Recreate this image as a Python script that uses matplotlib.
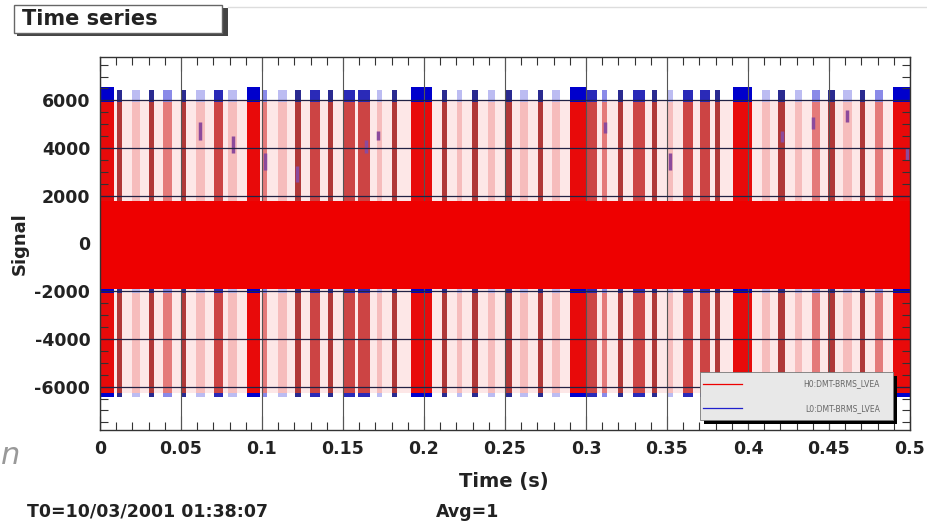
import matplotlib
matplotlib.use("Agg")
import matplotlib.pyplot as plt
from matplotlib.patches import Rectangle
from matplotlib.ticker import MultipleLocator, FixedLocator, FixedFormatter

plt.rcParams['font.family'] = ['DejaVu Sans']

# burst positions (s), widths (s) and shade level
# level: 0 light, 1 medium, 2 dark narrow, 3 strong, 4 medium-dark
pulse_t = [0.0046, 0.0120, 0.0222, 0.0318, 0.0417, 0.0519, 0.0620, 0.0731,
           0.0818, 0.0948, 0.1015, 0.1127, 0.1222, 0.1327, 0.1423, 0.1537,
           0.1630, 0.1725, 0.1818, 0.1985, 0.2127, 0.2219, 0.2315, 0.2417,
           0.2522, 0.2617, 0.2719, 0.2815, 0.2954, 0.3037, 0.3114, 0.3213,
           0.3327, 0.3423, 0.3519, 0.3630, 0.3735, 0.3812, 0.3966, 0.4111,
           0.4207, 0.4312, 0.4420, 0.4515, 0.4614, 0.4707, 0.4809, 0.4948]
pulse_w = [0.0085, 0.0030, 0.0050, 0.0030, 0.0055, 0.0025, 0.0055, 0.0055,
           0.0055, 0.0080, 0.0030, 0.0055, 0.0035, 0.0060, 0.0030, 0.0070,
           0.0070, 0.0030, 0.0030, 0.0130, 0.0030, 0.0030, 0.0035, 0.0040,
           0.0040, 0.0050, 0.0030, 0.0050, 0.0105, 0.0060, 0.0030, 0.0030,
           0.0070, 0.0030, 0.0035, 0.0060, 0.0060, 0.0030, 0.0115, 0.0050,
           0.0040, 0.0040, 0.0050, 0.0040, 0.0055, 0.0030, 0.0050, 0.0105]
pulse_lvl = [3, 2, 0, 2, 1, 2, 0, 4,
             0, 3, 1, 0, 2, 4, 2, 4,
             4, 0, 2, 3, 2, 0, 2, 0,
             2, 0, 2, 0, 3, 4, 1, 2,
             4, 2, 0, 4, 4, 2, 3, 0,
             2, 0, 1, 2, 0, 2, 1, 3]

# signal levels
pulse_lo = -6250
pulse_hi = 6000
cap_hi_strong = 6550
cap_hi = 6450
cap_lo = -6450
band_t = [0.0, 0.5]
band_lo = [-1900, -1900]
band_hi = [1800, 1800]
band_edge_lo = -2060

# second channel peaks visible inside bursts
mark_t = [0.0617, 0.0821, 0.1019, 0.1216, 0.1642, 0.1716,
          0.3117, 0.3519, 0.4210, 0.4401, 0.4611, 0.4981]
mark_lo = [4350, 3800, 3100, 2560, 3800, 4350, 4650, 3100, 4240, 4800, 5100, 3500]
mark_hi = [5100, 4500, 3800, 3230, 4350, 4700, 5100, 3800, 4700, 5300, 5600, 4000]

xticks = [0, 0.05, 0.1, 0.15, 0.2, 0.25, 0.3, 0.35, 0.4, 0.45, 0.5]
xlabels = ['0', '0.05', '0.1', '0.15', '0.2', '0.25', '0.3', '0.35', '0.4', '0.45', '0.5']
yticks = [-6000, -4000, -2000, 0, 2000, 4000, 6000]
ylabels = ['-6000', '-4000', '-2000', '0', '2000', '4000', '6000']

red_c = {0: '#f6bcbc', 1: '#e47a7a', 2: '#b03838', 3: '#e80a0a', 4: '#cc4444'}
blue_c = {0: '#bcbcf2', 1: '#8a8ae8', 2: '#2a2a90', 3: '#0000cc', 4: '#2a2ab8'}

fig = plt.figure(figsize=(9.28, 5.24), dpi=100)
ax = fig.add_axes([100 / 928, 1 - 430 / 524, 810 / 928, 373 / 524])
ax.set_xlim(0, 0.5)
ax.set_ylim(-7820, 7820)

# pale background of the dense signal
ax.fill_between(band_t, [pulse_lo] * 2, [pulse_hi] * 2, color='#fde7e7', lw=0, zorder=0.5)

reds = [red_c[l] for l in pulse_lvl]
blues = [blue_c[l] for l in pulse_lvl]
caps = [cap_hi_strong if l == 3 else cap_hi for l in pulse_lvl]

ax.bar(pulse_t, pulse_hi - pulse_lo, width=pulse_w, bottom=pulse_lo, color=reds, lw=0, zorder=1)
ax.bar(pulse_t, [c - pulse_hi + 50 for c in caps], width=pulse_w, bottom=pulse_hi - 50,
       color=blues, lw=0, zorder=1.1)
ax.bar(pulse_t, pulse_lo - cap_lo, width=pulse_w, bottom=cap_lo, color=blues, lw=0, zorder=1.1)
ax.bar(pulse_t, band_lo[0] - band_edge_lo, width=pulse_w, bottom=band_edge_lo,
       color=blues, lw=0, zorder=1.1)
ax.vlines(mark_t, mark_lo, mark_hi, colors='#8c4a9c', lw=2.5, zorder=1.2)

# grid
for x in xticks:
    ax.axvline(x, color='#555555', lw=0.8, zorder=2)
for y in yticks:
    ax.axhline(y, color='#222244', lw=0.9, zorder=2)

# central band
ax.fill_between(band_t, band_lo, band_hi, color='#ee0000', lw=0, zorder=3)

ax.xaxis.set_major_locator(FixedLocator(xticks))
ax.xaxis.set_major_formatter(FixedFormatter(xlabels))
ax.yaxis.set_major_locator(FixedLocator(yticks))
ax.yaxis.set_major_formatter(FixedFormatter(ylabels))
ax.xaxis.set_minor_locator(MultipleLocator(0.01))
ax.yaxis.set_minor_locator(MultipleLocator(500))
ax.tick_params(which='both', direction='in', top=True, right=True, width=0.8, color='#333333')
ax.tick_params(which='major', length=10, pad=7, labelsize=12.5)
ax.tick_params(which='minor', length=6)
for lab in ax.get_xticklabels() + ax.get_yticklabels():
    lab.set_fontweight('bold')
    lab.set_color('#222222')
for s in ax.spines.values():
    s.set_linewidth(1.0)
    s.set_color('#333333')
    s.set_zorder(5)

ax.set_ylabel('Signal', fontsize=13, fontweight='bold', color='#222222', labelpad=4)

# legend box
ax.add_patch(Rectangle((0.746, 0.016), 0.238, 0.128, transform=ax.transAxes,
                       facecolor='black', lw=0, zorder=8))
ax.add_patch(Rectangle((0.741, 0.027), 0.238, 0.128, transform=ax.transAxes,
                       facecolor='#e8e8e8', edgecolor='#777777', lw=0.6, zorder=9))
ax.plot([0.745, 0.792], [0.123, 0.123], color='#ee0000', lw=0.9, transform=ax.transAxes, zorder=10)
ax.plot([0.745, 0.792], [0.058, 0.058], color='#2020cc', lw=0.9, transform=ax.transAxes, zorder=10)
ax.text(0.963, 0.123, 'H0:DMT-BRMS_LVEA', transform=ax.transAxes, ha='right', va='center',
        fontsize=5.5, color='#666666', zorder=10)
ax.text(0.963, 0.058, 'L0:DMT-BRMS_LVEA', transform=ax.transAxes, ha='right', va='center',
        fontsize=5.5, color='#666666', zorder=10)

# title box
fig.patches.append(Rectangle((17 / 928, 1 - 36 / 524), 211 / 928, 28 / 524,
                             transform=fig.transFigure, facecolor='#444444', lw=0))
fig.patches.append(Rectangle((14 / 928, 1 - 33 / 524), 208 / 928, 28 / 524,
                             transform=fig.transFigure, facecolor='white',
                             edgecolor='#666666', lw=1.0))
fig.text(22 / 928, 1 - 19 / 524, 'Time series', fontsize=15, fontweight='bold',
         color='#222222', va='center', ha='left')
fig.add_artist(plt.Line2D([228 / 928, 1.0], [1 - 7 / 524, 1 - 7 / 524],
                          color='#dddddd', lw=1.0, transform=fig.transFigure))

fig.text(504 / 928, 1 - 481 / 524, 'Time (s)', fontsize=14, fontweight='bold',
         color='#222222', ha='center', va='center')
fig.text(27 / 928, 1 - 512 / 524, 'T0=10/03/2001 01:38:07', fontsize=12.5, fontweight='bold',
         color='#222222', ha='left', va='center')
fig.text(436 / 928, 1 - 512 / 524, 'Avg=1', fontsize=12.5, fontweight='bold',
         color='#222222', ha='left', va='center')
fig.text(1 / 928, 1 - 455 / 524, 'n', fontsize=22, style='italic', color='#999999',
         ha='left', va='center')

fig.savefig('out.png', dpi=100)
